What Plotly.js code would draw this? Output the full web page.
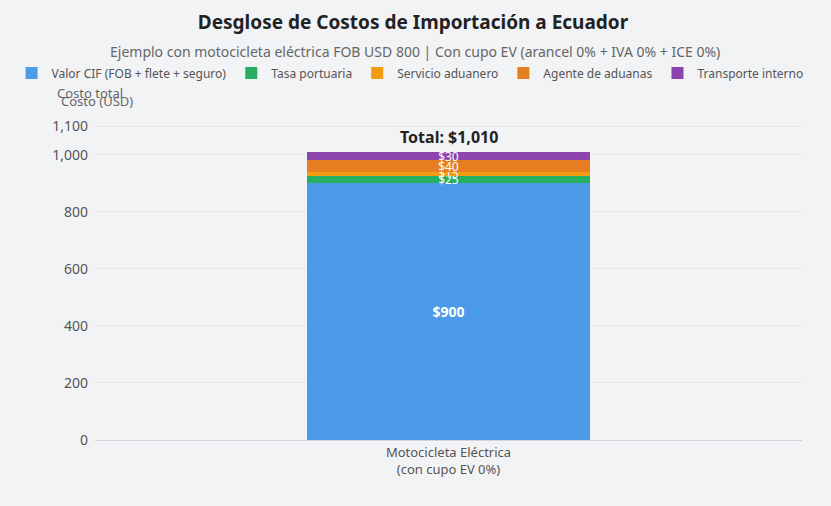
<!DOCTYPE html>
<html>
<head>
<meta charset="utf-8">
<script src="https://cdn.plot.ly/plotly-3.0.1.min.js"></script>
<style>
  html, body { margin: 0; padding: 0; background: #f2f3f5; }
  #chart { width: 831px; height: 506px; }
</style>
</head>
<body>
<div id="chart"></div>
<script>
var categories = ['Motocicleta Eléctrica<br>(con cupo EV 0%)'];
var seriesNames = ['Valor CIF (FOB + flete + seguro)', 'Tasa portuaria', 'Servicio aduanero', 'Agente de aduanas', 'Transporte interno'];
var seriesValues = [[900], [25], [15], [40], [30]];
var seriesColors = ['#4c9be8', '#27ae60', '#f39c12', '#e67e22', '#8e44ad'];
var yTicks = [0, 200, 400, 600, 800, 1000, 1100];

var total = seriesValues.reduce(function (s, v) { return s + v[0]; }, 0);

var data = seriesNames.map(function (name, i) {
  var big = i === 0;
  return {
    type: 'bar',
    name: name,
    x: categories,
    y: seriesValues[i],
    width: 0.4,
    marker: { color: seriesColors[i] },
    text: seriesValues[i].map(function (v) { return '$' + v; }),
    textposition: 'inside',
    insidetextanchor: 'middle',
    constraintext: 'none',
    textfont: { color: '#ffffff', size: big ? 14 : 12, weight: big ? 'bold' : 'normal' },
    hoverinfo: 'name+y'
  };
});

var layout = {
  width: 831,
  height: 506,
  barmode: 'stack',
  paper_bgcolor: '#f2f3f5',
  plot_bgcolor: '#f2f3f5',
  font: { family: 'Noto Sans, Open Sans, sans-serif', color: '#444' },
  margin: { l: 92, r: 29, t: 123, b: 66 },
  title: {
    text: '<b>Desglose de Costos de Importación a Ecuador</b>',
    font: { size: 19, color: '#222' },
    x: 0.497, xanchor: 'center', y: 0.955, yanchor: 'middle'
  },
  showlegend: true,
  legend: {
    orientation: 'h',
    x: -0.118, xanchor: 'left',
    y: 1.158, yanchor: 'middle',
    font: { size: 12, color: '#555' },
    traceorder: 'normal',
    itemwidth: 30
  },
  xaxis: {
    showgrid: false,
    linecolor: '#d0d4da',
    showline: true,
    tickfont: { size: 13, color: '#555' }
  },
  yaxis: {
    range: [0, total * 1.1],
    tickvals: yTicks,
    tickformat: ',d',
    gridcolor: '#e6e8eb',
    zeroline: false,
    ticklabelstandoff: 6,
    tickfont: { size: 14, color: '#555' }
  },
  annotations: [
    {
      text: 'Ejemplo con motocicleta eléctrica FOB USD 800 | Con cupo EV (arancel 0% + IVA 0% + ICE 0%)',
      xref: 'paper', yref: 'paper', x: 0.452, y: 1.224,
      xanchor: 'center', yanchor: 'middle',
      showarrow: false,
      font: { size: 14, color: '#666' }
    },
    {
      text: 'Costo total',
      xref: 'paper', yref: 'paper', x: 0, y: 1,
      xanchor: 'left', yanchor: 'middle',
      xshift: -40, yshift: 30, showarrow: false,
      font: { size: 13, color: '#666' }
    },
    {
      text: 'Costo (USD)',
      xref: 'paper', yref: 'paper', x: 0, y: 1,
      xanchor: 'left', yanchor: 'middle',
      xshift: -36, yshift: 22, showarrow: false,
      font: { size: 13, color: '#666' }
    },
    {
      text: '<b>Total: $' + total.toLocaleString('en-US') + '</b>',
      x: categories[0], y: total,
      yanchor: 'bottom', yshift: 2,
      showarrow: false,
      font: { size: 16, color: '#222' }
    }
  ]
};

Plotly.newPlot('chart', data, layout, { displayModeBar: false });
</script>
</body>
</html>
